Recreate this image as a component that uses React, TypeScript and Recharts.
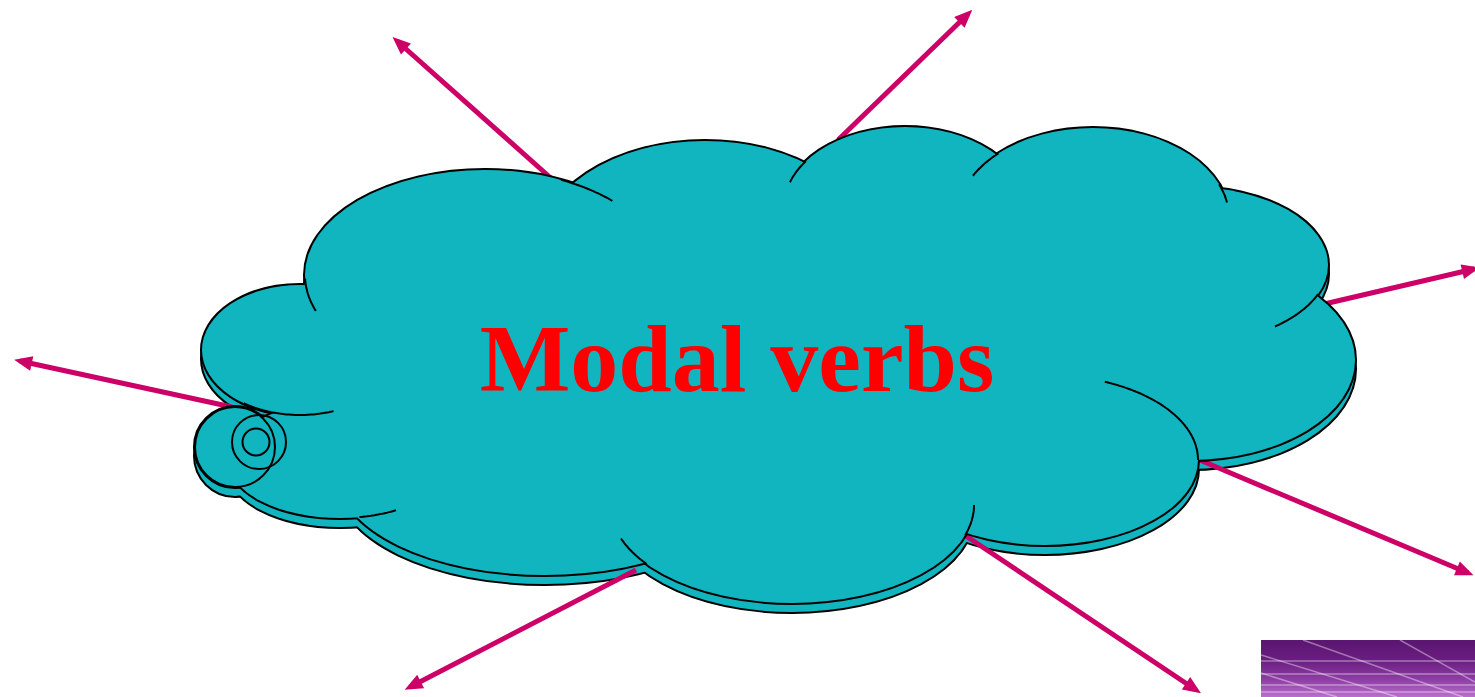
import React from 'react'
import { ComposedChart, Scatter, XAxis, YAxis } from 'recharts'

const W = 1475
const H = 697
const X_MAX = 1475
const Y_MAX = 697
const KX = W / X_MAX
const KY = H / Y_MAX

const TEAL = '#11b5bf'
const ARROW = '#cc0066'
const SHADOW_DY = 9

// cloud lobes (centre, radii) and the inner arc pieces each one keeps (degrees)
const lobeX = [485, 705, 905, 1093, 1190, 1190, 1045, 792, 545, 340, 300]
const lobeY = [275, 251, 207, 218, 265, 360, 460, 505, 475, 460, 350]
const lobeRx = [180, 167, 121, 136, 138, 165, 153, 182, 207, 112, 98]
const lobeRy = [105, 110, 80, 90, 78, 100, 85, 98, 100, 58, 65]
const lobeArcs = [
  [[160, 178], [295, 315]],
  [],
  [[198, 215]],
  [[208, 226], [338, 350]],
  [[22, 52]],
  [],
  [[293, 360]],
  [[0, 18], [143, 160]],
  [],
  [[60, 80]],
  [[70, 125]],
]

// filler for the middle of the cloud
const bodyX = [760]
const bodyY = [370]
const bodyRx = [420]
const bodyRy = [150]

// thought bubble circles on the left
const bubbleX = [235, 259, 256]
const bubbleY = [447, 442, 442]
const bubbleR = [40, 27, 13.5]

// arrows: tail (inside the cloud) and head
const arrowTailX = [553, 838, 1320, 232, 1195, 960, 636]
const arrowTailY = [180, 140, 305, 407, 458, 532, 570]
const arrowTipX = [397, 968, 1474, 20, 1468, 1196, 410]
const arrowTipY = [41, 14, 269, 361, 573, 690, 687]

const titleText = ['Modal verbs']
const titleX = [737]
const titleY = [391]

// corner picture and its light streaks
const photoX = [1261]
const photoY = [640]
const photoW = [214]
const photoH = [57]
const photoLines = [
  [1261, 661, 1475, 661],
  [1261, 674, 1475, 674],
  [1261, 685, 1475, 685],
  [1261, 692, 1475, 692],
  [1303, 640, 1463, 697],
  [1400, 640, 1475, 682],
  [1261, 655, 1397, 697],
  [1261, 673, 1337, 697],
]

const lobes = lobeX.map((x, i) => ({ x, y: lobeY[i], rx: lobeRx[i], ry: lobeRy[i], arcs: lobeArcs[i] }))
const body = bodyX.map((x, i) => ({ x, y: bodyY[i], rx: bodyRx[i], ry: bodyRy[i] }))
const outerBubble = [{ x: bubbleX[0], y: bubbleY[0], rx: bubbleR[0], ry: bubbleR[0] }]
const bubbles = bubbleX.map((x, i) => ({ x, y: bubbleY[i], rx: bubbleR[i], ry: bubbleR[i] }))
const edgeShapes = [...lobes, ...outerBubble]
const fillShapes = [...lobes, ...body, ...outerBubble]

const arrows = arrowTailX.map((tx, i) => {
  const dx = arrowTipX[i] - tx
  const dy = arrowTipY[i] - arrowTailY[i]
  return [
    { x: tx, y: arrowTailY[i], head: false, dx, dy },
    { x: arrowTipX[i], y: arrowTipY[i], head: true, dx, dy },
  ]
})

const title = titleText.map((t, i) => ({ x: titleX[i], y: titleY[i], text: t }))
const photo = photoX.map((x, i) => ({ x, y: photoY[i], w: photoW[i], h: photoH[i] }))

const ellipse = (mode: 'edge' | 'fill' | 'line', dy = 0) => (p: any) => {
  const { cx, cy, payload } = p
  if (cx == null || cy == null) return <g />
  const rx = payload.rx * KX
  const ry = payload.ry * KY
  if (mode === 'edge') return <ellipse cx={cx} cy={cy + dy} rx={rx} ry={ry} fill={TEAL} stroke="#000" strokeWidth={4} />
  if (mode === 'line') return <ellipse cx={cx} cy={cy + dy} rx={rx} ry={ry} fill="none" stroke="#000" strokeWidth={2} />
  return <ellipse cx={cx} cy={cy + dy} rx={rx} ry={ry} fill={TEAL} />
}

const innerArcs = (p: any) => {
  const { cx, cy, payload } = p
  if (cx == null || !payload.arcs?.length) return <g />
  const rx = payload.rx * KX
  const ry = payload.ry * KY
  return (
    <g>
      {payload.arcs.map(([a, b]: number[], k: number) => {
        const pts: string[] = []
        for (let t = a; t <= b; t += 1) {
          const r = (t * Math.PI) / 180
          pts.push(`${(cx + rx * Math.cos(r)).toFixed(1)},${(cy + ry * Math.sin(r)).toFixed(1)}`)
        }
        return <path key={k} d={'M' + pts.join('L')} fill="none" stroke="#000" strokeWidth={2} />
      })}
    </g>
  )
}

const arrowHead = (p: any) => {
  const { cx, cy, payload } = p
  if (cx == null || !payload.head) return <g />
  const len = Math.hypot(payload.dx, payload.dy)
  const ux = payload.dx / len
  const uy = payload.dy / len
  const tipX = cx + ux * 6
  const tipY = cy + uy * 6
  const bx = cx - ux * 12
  const by = cy - uy * 12
  const hw = 7.5
  const pts = `${tipX},${tipY} ${bx - uy * hw},${by + ux * hw} ${bx + uy * hw},${by - ux * hw}`
  return <polygon points={pts} fill={ARROW} />
}

const titleShape = (p: any) => {
  const { cx, cy, payload } = p
  if (cx == null) return <g />
  return (
    <text
      x={cx}
      y={cy}
      textAnchor="middle"
      fill="#ff0000"
      fontFamily="'Times New Roman', 'Liberation Serif', serif"
      fontWeight="bold"
      fontSize={96}
    >
      {payload.text}
    </text>
  )
}

const photoShape = (p: any) => {
  const { cx, cy, payload } = p
  if (cx == null) return <g />
  const w = payload.w * KX
  const h = payload.h * KY
  return (
    <g>
      <defs>
        <linearGradient id="photoGrad" x1="0" y1="0" x2="0" y2="1">
          <stop offset="0%" stopColor="#5a1670" />
          <stop offset="35%" stopColor="#6a1d80" />
          <stop offset="70%" stopColor="#8e3ea4" />
          <stop offset="100%" stopColor="#bb6fcd" />
        </linearGradient>
        <clipPath id="photoClip">
          <rect x={cx} y={cy} width={w} height={h} />
        </clipPath>
      </defs>
      <rect x={cx} y={cy} width={w} height={h} fill="url(#photoGrad)" />
      <g clipPath="url(#photoClip)">
        {photoLines.map((l, i) => (
          <line
            key={i}
            x1={cx + (l[0] - payload.x) * KX}
            y1={cy + (l[1] - payload.y) * KY}
            x2={cx + (l[2] - payload.x) * KX}
            y2={cy + (l[3] - payload.y) * KY}
            stroke="#ffffff"
            strokeOpacity={0.4}
            strokeWidth={1.5}
          />
        ))}
      </g>
    </g>
  )
}

export default function App() {
  return (
    <div style={{ position: 'absolute', left: 0, top: 0, width: W, height: H, background: '#fff' }}>
      <ComposedChart width={W} height={H} margin={{ top: 0, right: 0, bottom: 0, left: 0 }}>
        <XAxis type="number" dataKey="x" domain={[0, X_MAX]} scale="linear" allowDataOverflow hide />
        <YAxis type="number" dataKey="y" domain={[0, Y_MAX]} scale="linear" allowDataOverflow reversed hide />

        {/* shadow layer */}
        <Scatter data={edgeShapes} shape={ellipse('edge', SHADOW_DY)} isAnimationActive={false} />
        <Scatter data={fillShapes} shape={ellipse('fill', SHADOW_DY)} isAnimationActive={false} />

        {arrows.map((a, i) => (
          <Scatter
            key={i}
            data={a}
            line={{ stroke: ARROW, strokeWidth: 5 }}
            lineType="joint"
            shape={arrowHead}
            isAnimationActive={false}
          />
        ))}

        {/* top layer */}
        <Scatter data={edgeShapes} shape={ellipse('edge')} isAnimationActive={false} />
        <Scatter data={fillShapes} shape={ellipse('fill')} isAnimationActive={false} />
        <Scatter data={lobes} shape={innerArcs} isAnimationActive={false} />
        <Scatter data={bubbles} shape={ellipse('line')} isAnimationActive={false} />

        <Scatter data={title} shape={titleShape} isAnimationActive={false} />
        <Scatter data={photo} shape={photoShape} isAnimationActive={false} />
      </ComposedChart>
    </div>
  )
}
